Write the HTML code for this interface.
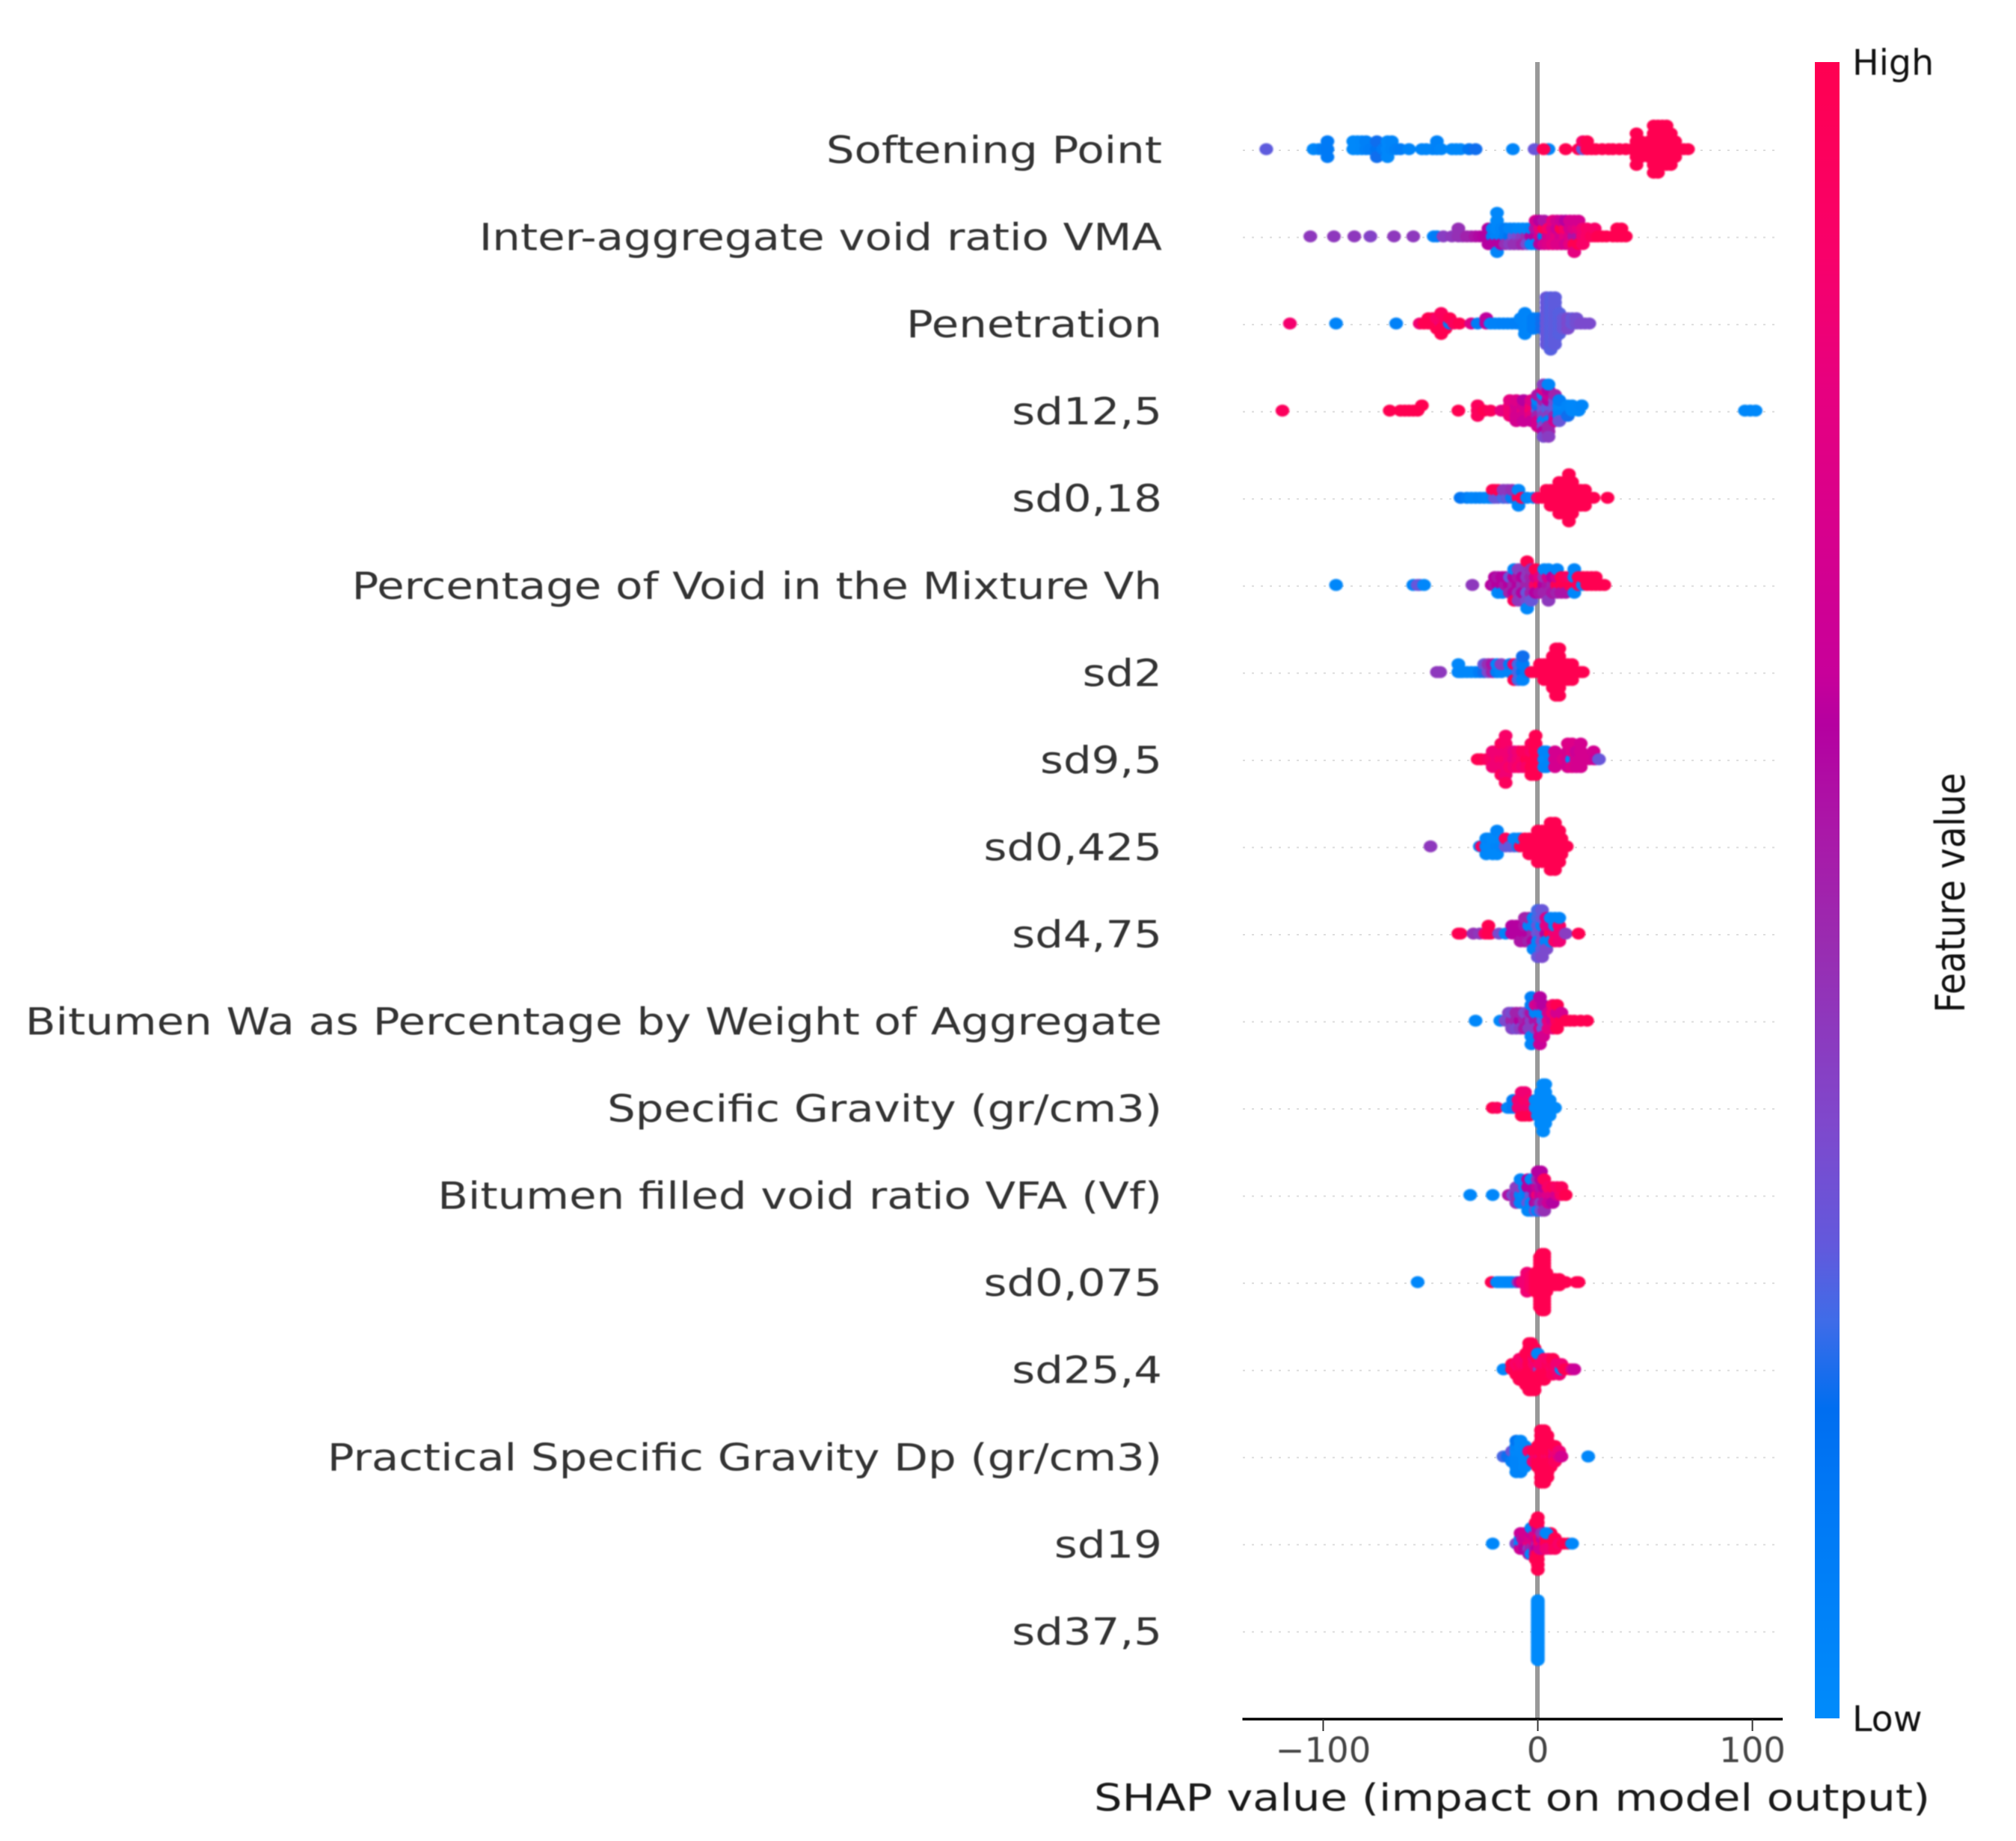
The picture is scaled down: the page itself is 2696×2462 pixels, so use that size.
<!DOCTYPE html>
<html lang="en">
<head>
<meta charset="utf-8">
<title>SHAP summary plot</title>
<style>
  html, body { margin: 0; padding: 0; background: #ffffff; }
  body { width: 2696px; height: 2462px; overflow: hidden; }
  svg { display: block; }
  text { font-family: "DejaVu Sans", "Liberation Sans", sans-serif; }
  #text-layer { filter: blur(0.8px); }
  #point-layer { filter: blur(1px); }
</style>
</head>
<body>
<svg id="chart" xmlns="http://www.w3.org/2000/svg" width="2696" height="2462" viewBox="0 0 2696 2462">
  <defs>
    <linearGradient id="feature-gradient" x1="0" y1="1" x2="0" y2="0"></linearGradient>
  </defs>
  <rect x="0" y="0" width="2696" height="2462" fill="#ffffff"></rect>
  <g id="grid-layer"></g>
  <line x1="2056" y1="83" x2="2056" y2="2299" stroke="#999999" stroke-width="6"></line>
  <g id="point-layer"></g>
  <line x1="1661.5" y1="2299" x2="2384" y2="2299" stroke="#000000" stroke-width="3.5"></line>
  <g id="tick-layer"></g>
  <rect x="2427" y="83" width="33" height="2215" fill="url(#feature-gradient)"></rect>
  <g id="text-layer">
    <g id="label-layer"></g>
    <g id="tick-label-layer"></g>
    <text transform="translate(1463,2421.5) scale(1.185,1)" font-size="50" fill="#1a1a1a">SHAP value (impact on model output)</text>
    <text x="2477" y="100" font-size="47.5" fill="#111111">High</text>
    <text x="2477" y="2315" font-size="47.5" fill="#111111">Low</text>
    <text transform="translate(2627,1194) rotate(-90) scale(1,1.15)" font-size="47" text-anchor="middle" fill="#111111">Feature value</text>
  </g>
</svg>
<script>
const featureNames = [
  "Softening Point", "Inter-aggregate void ratio VMA", "Penetration", "sd12,5", "sd0,18",
  "Percentage of Void in the Mixture Vh", "sd2", "sd9,5", "sd0,425", "sd4,75",
  "Bitumen Wa as Percentage by Weight of Aggregate", "Specific Gravity (gr/cm3)",
  "Bitumen filled void ratio VFA (Vf)", "sd0,075", "sd25,4",
  "Practical Specific Gravity Dp (gr/cm3)", "sd19", "sd37,5"
];
const xTickValues = [-100, 0, 100];
const xTickLabels = ["\u2212100", "0", "100"];

// Each point: [SHAP value, normalised feature value]
const softeningPoint = [
[-126.5,.28],[-104.5,.03],[-102,.05],[-100,.1],[-98,.12],[-98,.12],[-98,.12],
[-86,.02],[-86,.02],[-84,.02],[-84,.02],[-82,.03],[-82,.03],[-80,.08],[-80,.08],[-78,.1],[-75,.15],[-75,.2],[-75,.2],[-72,.1],
[-70,.03],[-70,.03],[-70,.03],[-68,.05],[-68,.05],[-66,.08],[-64,.1],[-60,.05],[-54,.04],[-52,.04],[-49,.04],[-47,.06],[-47,.06],[-45,.04],
[-40,.03],[-38,.03],[-36,.03],[-32,.15],[-29,.2],[-11.6,.04],[-1.5,.3],[5,.04],[2.7,1],[13,1],[19,1],[21,.3],[21,.9],[23,1],[23,1],[25,1],[27,1],[30,1],[33,1],[35,1],[38,1],[41,1],[44,1],
[46,1],[46,1],[46,1],[46,1],[46,1],[48,1],[48,1],[48,1],[50,1],[52,1],[52,1],[52,1],
[54,1],[54,1],[54,1],[54,1],[54,1],[54,1],[54,1],[56,1],[56,1],[56,1],[56,1],[56,1],[56,1],[56,1],
[58,1],[58,1],[58,1],[58,1],[58,1],[58,1],[60,1],[60,1],[60,1],[60,1],[60,1],[60,1],[62,1],[62,1],[62,1],[62,1],[62,1],[64,1],[64,1],[64,1],[68,1],[70,1]
];
const interAggregateVma = [
[-106,.42],[-95,.42],[-85.5,.42],[-78,.38],[-67,.42],[-58,.42],[-48.5,.05],[-47,.1],[-44,.4],[-40,.42],[-37,.45],[-37,.45],[-35,.45],[-33,.5],[-31,.5],[-29,.55],[-27,.58],[-25,.6],
[-23,.6],[-23,.6],[-23,.6],[-21,.1],[-21,.06],[-21,.6],[-19,.05],[-19,.03],[-19,.6],[-19,.03],[-19,.05],[-19,.03],[-17,.05],[-17,.05],[-17,.6],[-15,.1],[-15,.1],[-15,.45],
[-13,.15],[-13,.05],[-13,.4],[-11,.3],[-11,.05],[-11,.45],[-9,.35],[-9,.03],[-9,.45],[-7,.4],[-7,.03],[-7,.5],[-5,.45],[-5,.03],[-5,.35],[-3,.6],[-3,.05],[-3,.03],
[-1,.6],[-1,.55],[-1,.03],[-1,.7],[1,.7],[1,.8],[1,.6],[1,.6],[3,.15],[3,1],[3,.7],[3,.55],[5,.7],[5,.9],[5,.75],[7,.75],[7,.75],[7,.8],[7,.8],
[9,.8],[9,.65],[9,.75],[9,.7],[11,.7],[11,1],[11,.75],[11,.65],[13,.8],[13,.9],[13,.7],[13,.6],[15,.75],[15,.7],[15,.8],[15,.7],
[17,.55],[17,.75],[17,1],[17,.7],[17,.8],[19,.55],[19,.8],[19,1],[19,.7],[21,.85],[21,.85],[21,.9],[23,.9],[23,.9],[25,.95],[26.5,.95],[26.5,.9],[28,1],[30,1],[32,1],[35,1],[37,1],[37,1],[39,1],[39,1],[41,1]
];
const penetration = [
[-115.5,.87],[-94,.05],[-66,.07],[-55,.85],[-53,1],[-51,1],[-51,1],[-49,1],[-49,1],[-47,1],[-47,.9],[-47,1],[-45,.85],[-45,.9],[-45,1],[-45,.95],[-45,1],[-43,1],[-43,.95],[-43,1],[-41,.1],[-41,1],[-39,.95],[-36.5,1],
[-31,.75],[-28,.1],[-24,.62],[-24,.62],[-22,.05],[-20,.06],[-18,.06],[-16,.07],[-14,.07],[-12,.07],[-10,.08],[-8,.08],[-8,.05],
[-6,.05],[-6,.05],[-6,.05],[-6,.05],[-6,.05],[-4,.04],[-4,.04],[-4,.04],[-2,.1],[-2,.1],[-2,.1],[0,.1],[0,.1],
[2,.2],[2,.2],[2,.2],
[4,.3],[4,.3],[4,.3],[4,.3],[4,.3],[4,.3],[4,.3],[4,.3],[4,.3],[4,.3],
[6,.27],[6,.27],[6,.27],[6,.27],[6,.27],[6,.27],[6,.27],[6,.27],[6,.27],[6,.27],[6,.27],
[8,.28],[8,.28],[8,.28],[8,.28],[8,.28],[8,.28],[8,.28],[8,.28],[8,.28],[8,.28],
[10,.27],[10,.27],[10,.27],[10,.27],[10,.27],
[12,.3],[12,.3],[12,.3],[14,.35],[14,.35],[14,.35],[16,.3],[16,.3],[18,.33],[18,.33],[20,.35],[22,.35],[24,.35]
];
const sd12_5 = [
[-119,.95],[-69,1],[-64,1],[-62,1],[-60,1],[-58,1],[-56,1],[-54,1],[-37,1],[-28,.95],[-28,.95],[-28,.95],[-25,1],[-22,.95],[-17,.8],
[-13,.85],[-13,.85],[-13,.85],[-13,.8],[-10,.75],[-10,.7],[-10,.7],[-10,.75],[-10,.7],[-6.6,.8],[-6.6,.7],[-6.6,.7],[-6.6,.6],[-6.6,.65],
[-3,.9],[-3,.85],[-3,.8],[-3,.75],[-3,.65],
[0,.3],[0,.2],[0,.5],[0,.05],[0,.7],[0,.55],[0,.7],
[2.7,.3],[2.7,.3],[2.7,.4],[2.7,.5],[2.7,.05],[2.7,.04],[2.7,.35],[2.7,.75],[2.7,.6],[2.7,.4],[2.7,.35],
[5,.25],[5,.28],[5,.4],[5,.6],[5,.05],[5,.65],[5,.5],[5,.6],[5,.5],[5,.04],[5,.4],
[8,.3],[8,.3],[8,.5],[8,.35],[8,.7],[8,.5],[10,.04],[10,.03],[10,.06],[10,.1],[10,.3],[14,.05],[14,.04],[14,.2],[16,.03],[16,.03],[19,.03],[20.5,.04],
[96.5,.02],[99,.03],[101.5,.02]
];
const sd0_18 = [
[-36,.15],[-33,.1],[-31,.05],[-29,.05],[-27,.06],[-25,.05],[-23,.03],[-22,.03],[-21,.05],[-21,1],[-20,.3],[-20,1],[-18.5,.3],[-18.5,1],[-16,.25],[-16,.42],[-14,.28],[-14,.42],[-12,.1],[-12,.45],
[-9,.95],[-9,.03],[-9,.04],[-7.5,1],[-5,.05],[-2,.02],[0,.9],[2,1],[4,1],[4,1],[6,1],[6,1],[6,1],
[8,1],[8,1],[8,1],[10,1],[10,1],[10,1],[10,1],[10,1],[12,1],[12,1],[12,1],[12,1],[12,1],
[14.5,1],[14.5,1],[14.5,1],[14.5,1],[14.5,1],[14.5,1],[14.5,1],[16,1],[16,1],[16,1],[16,1],[16,1],[18,1],[18,1],[18,1],[20,1],[20,1],[20,1],[22,1],[22,1],[22,1],[24,1],[26,1],[32.5,1]
];
const percentageVoid = [
[-94,.03],[-58,.04],[-56,.3],[-55,.3],[-53,.03],[-30.5,.42],[-21.5,.6],[-20,.55],[-20,.6],[-18.5,.6],[-18.5,.55],[-18.5,.03],[-16.5,.6],[-16.5,.6],[-16.5,.05],[-15,.55],[-15,.6],[-13,.6],[-13,.3],[-13,.5],
[-11,.5],[-11,.6],[-11,.6],[-11,.05],[-11,.95],[-9,.6],[-9,.55],[-9,.45],[-9,.4],[-9,.42],[-7,.45],[-7,.6],[-7,.6],
[-5,.5],[-5,.42],[-5,.3],[-5,.42],[-5,.35],[-5,1],[-5,.03],[-3,.5],[-3,.5],[-3,.5],[-3,.45],[-3,.3],[-1,.9],[-1,.7],[-1,.6],[-1,1],[1,1],[1,.8],[1,.55],
[3,.6],[3,.45],[3,.5],[3,.03],[5,.55],[5,.7],[5,.5],[5,.03],[5,.42],[7,.5],[7,.6],[7,.55],[9,1],[9,.7],[9,.5],[9,.05],[11,1],[11,1],[11,.55],[13,1],[13,.95],[13,.55],
[15,1],[15,.9],[17,1],[17,.05],[17,.03],[17,.04],[19,.95],[19,1],[21,.04],[21,1],[23,1],[23,1],[25,1],[25,1],[27,1],[27,1],[29,1],[31,1]
];
const sd2 = [
[-47,.42],[-45.5,.42],[-37,.05],[-37,.03],[-36,.03],[-35,.03],[-33,.03],[-31,.03],[-29,.03],[-27,.1],[-25,.2],[-25,.3],[-23,.35],[-23,.45],[-21,.5],[-21,.55],[-19,.1],[-19,.03],[-17,.04],[-17,.4],
[-13,.05],[-13,.1],[-11,.05],[-11,.9],[-11,1],[-9,.25],[-9,.25],[-9,.25],[-7,.15],[-7,.1],[-7,.05],[-7,.2],[-5,.1],[-3,1],[-1,1],[1,1],[1,1],[3,1],[3,1],[3,1],[5,1],[5,1],[5,1],
[7,1],[7,1],[7,1],[7,1],[7,1],[8.5,1],[8.5,1],[8.5,1],[8.5,1],[8.5,1],[8.5,1],[8.5,1],[10,1],[10,1],[10,1],[10,1],[10,1],[10,1],[10,1],
[12,1],[12,1],[12,1],[14,1],[14,1],[14,1],[16,1],[16,1],[16,1],[18,1],[20,1],[21,1]
];
const sd9_5 = [
[-28,1],[-26.5,1],[-24,.95],[-22,.9],[-21,.9],[-21,.85],[-21,.85],[-19,.85],[-19,.85],[-19,.85],[-17,.9],[-17,.85],[-17,.85],[-17,.95],[-17,.95],
[-15,.9],[-15,.85],[-15,.85],[-15,.9],[-15,.85],[-15,.9],[-15,.95],[-13,.85],[-13,.85],[-13,.9],[-11,.8],[-11,.8],[-11,.85],[-9,.85],[-9,.85],[-9,.9],[-7,.9],[-7,.95],[-7,.85],[-5,1],[-5,.95],[-5,.9],
[-3,1],[-3,.9],[-3,1],[-3,.95],[-3,1],[-1,1],[-1,1],[-1,1],[-1,1],[-1,1],[-1,1],[1,1],[1,1],[1,1],
[3,.03],[3,.03],[3,.03],[4,.02],[4,.04],[4,.04],[6,.04],[8,.7],[8,.7],[8,.7],[10,.7],[12,.75],[14,.7],[14,.7],[14,.7],[14,.75],
[16,.03],[16,.75],[16,.75],[16,.75],[18,.7],[18,.65],[18,.7],[20,.7],[20,.7],[20,.7],[20,.7],[22,.7],[24,.7],[26,.7],[26,.68],[27,.65],[28.5,.3]
];
const sd0_425 = [
[-50,.42],[-27,.05],[-26,.95],[-24,.05],[-24,.02],[-24,.03],[-23,.03],[-23,.04],[-21,.03],[-21,.02],[-21,.02],[-19,.04],[-19,.02],[-19,.02],[-19,.05],[-17,.05],[-17,.03],
[-15,.3],[-15,.95],[-13,.28],[-11,.28],[-11,.03],[-9,.05],[-9,.03],[-8,1],[-8,.03],[-6,1],[-6,1],[-4,1],[-4,1],[-4,1],[-2,1],[-2,1],[-2,1],
[0,1],[0,1],[0,1],[0,1],[0,1],[2,1],[2,1],[2,1],[2,1],[2,1],[4,1],[4,1],[4,1],[4,1],[4,1],
[6,1],[6,1],[6,1],[6,1],[6,1],[6,1],[6,1],[8,1],[8,1],[8,1],[8,1],[8,1],[8,1],[8,1],[10,1],[10,1],[10,1],[10,1],[10,1],
[11,1],[11,1],[11,1],[12,1],[13.5,1]
];
const sd4_75 = [
[-37,1],[-36,1],[-30,.45],[-27,.42],[-24.5,.9],[-23,1],[-23,1],[-22,1],[-18,.35],[-15,.05],[-12,.6],[-12,.6],[-10,.6],[-10,.6],[-8,.6],[-8,.6],[-8,.55],[-6,.6],[-6,.55],[-6,.55],[-6,.5],
[-4,.6],[-4,.05],[-4,.5],[-4,.5],[-2,.5],[-2,.05],[-2,.6],[-2,.05],[-2,.05],[0,.3],[0,.3],[0,.05],[0,.25],[0,.05],[0,.25],[0,.3],
[2,.35],[2,.05],[2,.35],[2,.3],[2,.3],[2,.3],[2,.35],[4,.6],[4,.8],[4,.05],[4,.75],[4,.35],[6,1],[6,.75],[6,.05],[6,.03],[8,.85],[8,.05],[8,.9],[8,.05],[10,.85],[10,.9],[10,.85],[10,.05],[11,.85],[13,.4],[19,1]
];
const bitumenWa = [
[-29,.03],[-17.5,.03],[-15,.35],[-13.5,.35],[-13.5,.38],[-12,.5],[-12,.35],[-12,.38],[-10,.5],[-10,.5],[-10,.35],[-8,.6],[-8,.5],[-8,.4],[-6,.5],[-6,.35],[-6,.55],[-4,.55],[-4,.4],[-4,.4],
[-3,.4],[-3,.55],[-3,.4],[-3,.1],[-3,.05],[-3,.1],[-3,.05],[-1,.55],[-1,.05],[-1,.4],[-1,.7],[1,.55],[1,.05],[1,.7],[1,.65],[1,.65],[1,.6],[1,.65],[2.5,.25],[2.5,.05],[2.5,.3],[2.5,.6],[2.5,.7],
[5,.8],[5,.7],[5,.8],[7,.7],[7,.85],[7,.8],[7,.9],[9,.95],[9,.7],[9,1],[9,1],[11,1],[11,.7],[13,1],[15,1],[17,1],[20,1],[23,1]
];
const specificGravity = [
[-21,1],[-19,.95],[-14,.05],[-13,.05],[-11.5,.1],[-11.5,.1],[-9,.85],[-9,.85],[-7.5,.85],[-7.5,.85],[-7.5,1],[-7.5,.85],[-6,.85],[-6,.9],[-6,1],[-6,.85],[-4,.85],[-4,.88],[-4,1],[-2,.85],
[-1,.01],[-1,.01],[0,.01],[0,.01],[0,.01],[1.5,.01],[1.5,.01],[1.5,.01],[1.5,.01],[1.5,.01],
[2.5,.01],[2.5,.01],[2.5,.01],[2.5,.01],[2.5,.01],[2.5,.01],[2.5,.01],[3.5,.01],[3.5,.01],[3.5,.01],[3.5,.01],[3.5,.01],[3.5,.01],
[4.5,.01],[4.5,.01],[4.5,.01],[5.5,.01],[5.5,.01],[5.5,.01],[7,.01],[8,.01]
];
const bitumenFilled = [
[-31.5,.03],[-21,.03],[-13.5,.55],[-11.5,.35],[-10,.45],[-10,.4],[-10,.45],[-8,.05],[-8,.4],[-8,.05],[-8,.05],[-6,.03],[-6,.05],[-6,.05],
[-4.5,.06],[-4.5,.6],[-4.5,.3],[-4.5,.6],[-4.5,.04],[-3,.3],[-3,.6],[-3,.04],[-3,.04],[-3,.03],[-1,.6],[-1,.6],[-1,.6],[-1,.04],[-1,.3],
[0,.85],[0,.65],[0,.55],[0,.45],[0,.05],[0,.6],[1.5,.65],[1.5,.55],[1.5,.4],[1.5,.6],[1.5,.3],[1.5,.6],[3,.7],[3,.6],[3,.55],[3,.95],[3,.45],
[5,.75],[5,.9],[5,.65],[7,.75],[7,.95],[7,.6],[9,.7],[9,.9],[11,.9],[11,.95],[13,1]
];
const sd0_075 = [
[-56,.03],[-21.5,1],[-19,.03],[-18,.02],[-17,.02],[-16,.02],[-15,.02],[-14,.02],[-13,.03],[-12,.03],[-10,.03],[-9,.45],[-8,.6],[-7,.85],
[-5,.85],[-5,.85],[-5,.85],[-5,.85],[-5,.85],[-5,.85],[-5,.85],[-3,.9],[-3,.9],[-3,.9],[-3,.9],[-3,.9],[-1,1],[-1,1],[-1,1],[-1,1],[-1,1],[-1,1],[-1,1],
[1,1],[1,1],[1,1],[1,1],[1,1],[1,1],[1,1],[1,1],[1,1],[1,1],[1,1],[1,1],[1,1],[1,1],[1,1],[1,1],[1,1],
[2,1],[2,1],[2,1],[2,1],[2,1],[2,1],[2,1],[2,1],[2,1],[2,1],[2,1],[2,1],[2,1],[2,1],[2,1],[2,1],[2,1],[2,1],[2,1],
[3,1],[3,1],[3,1],[3,1],[3,1],[3,1],[3,1],[3,1],[3,1],[3,1],[3,1],[3,1],[3,1],[3,1],[3,1],[3,1],[3,1],[3,1],[3,1],
[4,1],[4,1],[4,1],[4,1],[4,1],[4,1],[4,1],[6,1],[6,1],[6,1],[8,1],[8,1],[8,1],[10,1],[10,1],[10,1],[12,1],[13,1],[18,1],[19,1]
];
const sd25_4 = [
[-16,.03],[-12,1],[-12,1],[-10,1],[-10,.9],[-10,1],[-8.5,.9],[-8.5,.95],[-8.5,1],[-8.5,.9],[-8.5,1],[-7,.95],[-7,.9],[-7,1],[-7,.9],[-7,1],
[-5.5,.95],[-5.5,.88],[-5.5,1],[-5.5,.85],[-5.5,1],[-5.5,1],[-5.5,1],[-4,1],[-4,1],[-4,1],[-4,1],[-4,1],[-4,1],[-4,1],[-4,1],[-4,1],[-4,1],
[-3,1],[-3,1],[-3,1],[-3,1],[-3,1],[-3,1],[-3,1],[-3,1],[-3,1],[-3,1],[-1.5,1],[-1.5,.9],[-1.5,1],[-1.5,.85],[-1.5,1],[-1.5,1],[-1.5,1],[-1.5,1],[-1.5,1],
[0,.85],[0,.85],[0,1],[0,1],[0,1],[0,.04],[1,.3],[1,.9],[1,1],[3,1],[3,.9],[3,1],[3,.9],[3,1],[5,1],[5,.95],[5,1],[5,.9],[7,.9],[7,.95],[7,.95],[7,1],[9,.9],[9,.85],[10,.85],[10,.85],[10,.85],[11,.03],[11,.85],[12.5,1],[15,1],[16,.8],[17,.65]
];
const practicalGravity = [
[-16,.25],[-14,.2],[-12,.15],[-12,.3],[-12,.1],[-10,.05],[-10,.03],[-10,.05],[-10,.05],[-10,.05],[-10,.15],[-10,.05],
[-8,.04],[-8,.03],[-8,.05],[-8,.02],[-8,.05],[-8,.02],[-8,.05],[-6,.03],[-6,.03],[-6,.03],[-6,.03],[-6,.03],[-4,.03],[-4,.85],[-4,.03],[-2,.03],[-2,1],[-2,.85],
[0,.9],[0,1],[0,1],[0,1],[0,1],[1.5,.85],[1.5,1],[1.5,1],[1.5,1],[1.5,1],[1.5,1],[1.5,1],[1.5,1],[1.5,1],[1.5,1],[1.5,1],
[3,1],[3,1],[3,1],[3,1],[3,1],[3,1],[3,1],[3,1],[3,1],[3,1],[3,1],[4.5,.9],[4.5,1],[4.5,1],[4.5,1],[4.5,1],[4.5,1],[4.5,1],[4.5,1],[4.5,1],
[6,.9],[6,1],[6,1],[6,1],[6,1],[8,.8],[8,.85],[8,.95],[8,1],[10,.8],[10,.85],[11,.7],[23.5,.03]
];
const sd19 = [
[-21,.03],[-10,.35],[-8,.03],[-8,.05],[-8,.65],[-8,.65],[-7,.03],[-7,.55],[-7,.7],[-6,.7],[-6,.65],[-6,.6],[-6,.7],[-4,.8],[-4,.7],[-4,.4],[-4,.7],[-4,.55],
[-3,.8],[-3,.75],[-3,.5],[-3,.65],[-3,.03],[-3,.05],[-1,.8],[-1,.7],[-1,.55],[-1,.75],[-1,.7],[-1,.05],[-1,1],[-1,1],
[0,.5],[0,.65],[0,.6],[0,.75],[0,1],[0,.65],[0,1],[0,1],[0,1],[0,1],[0,1],[1,.85],[1,1],[1,.7],[2,.9],[2,.65],[2,.7],[2,.45],
[6,1],[6,1],[6,.9],[6,1],[4,1],[4,1],[4,.85],[4,.03],[8,1],[8,1],[8,.95],[10,.9],[12,1],[14,1],[16,.03]
];
const sd37_5 = [
[0,.01],[0,.01],[0,.01],[0,.01],[0,.01],[0,.01],[0,.01],[0,.01],[0,.01],[0,.01],[0,.01],[0,.01],[0,.01],[0,.01],[0,.01],
[0,.01],[0,.01],[0,.01],[0,.01],[0,.01],[0,.01],[0,.01],[0,.01],[0,.01],[0,.01],[0,.01],[0,.01],[0,.01],[0,.01],[0,.01],
[0,.01],[0,.01],[0,.01],[0,.01],[0,.01],[0,.01],[0,.01],[0,.01],[0,.01],[0,.01],[0,.01],[0,.01],[0,.01],[0,.01],[0,.01],
[0,.01],[0,.01],[0,.01],[0,.01],[0,.01],[0,.01],[0,.01],[0,.01],[0,.01],[0,.01],[0,.01],[0,.01],[0,.01],[0,.01],[0,.01]
];
const rowSeries = [softeningPoint, interAggregateVma, penetration, sd12_5, sd0_18, percentageVoid, sd2, sd9_5, sd0_425, sd4_75, bitumenWa, specificGravity, bitumenFilled, sd0_075, sd25_4, practicalGravity, sd19, sd37_5];

const colorStops = [
  [0, "#008bfb"], [0.134, "#0078f5"], [0.187, "#006ef0"], [0.24, "#3f6ce8"], [0.285, "#6259dc"],
  [0.36, "#7f48cc"], [0.47, "#9a2bb0"], [0.535, "#aa18a8"], [0.6, "#b500a0"], [0.631, "#c8009a"],
  [0.8, "#e60080"], [0.884, "#f8006a"], [1, "#ff0051"]
];

const SVG_NS = "http://www.w3.org/2000/svg";
const ZERO_X = 2056.5, PX_PER_UNIT = 2.87, FIRST_ROW_Y = 199.5, ROW_STEP = 116.55;
function xScale(v) { return ZERO_X + v * PX_PER_UNIT; }
function yScale(i) { return FIRST_ROW_Y + i * ROW_STEP; }

function hexToRgb(h) { return [1, 3, 5].map(function (k) { return parseInt(h.substr(k, 2), 16); }); }
function featureColor(f) {
  const t = Math.max(0, Math.min(1, f));
  for (let i = 1; i < colorStops.length; i++) {
    if (t <= colorStops[i][0]) {
      const a = colorStops[i - 1], b = colorStops[i];
      const u = (t - a[0]) / (b[0] - a[0]);
      const ca = hexToRgb(a[1]), cb = hexToRgb(b[1]);
      return "rgb(" + ca.map(function (c, j) { return Math.round(c + (cb[j] - c) * u); }).join(",") + ")";
    }
  }
  return colorStops[colorStops.length - 1][1];
}

// Beeswarm layout: values are binned and stacked outward from the row centre.
function beeswarmOffsets(points) {
  const shaps = points.map(function (p) { return p[0]; });
  const lo = Math.min.apply(null, shaps), hi = Math.max.apply(null, shaps);
  const bins = shaps.map(function (s) { return Math.round(100 * (s - lo) / (hi - lo + 1e-8)); });
  const order = shaps.map(function (_, i) { return i; }).sort(function (a, b) { return bins[a] - bins[b] || a - b; });
  const levels = new Array(points.length).fill(0);
  let layer = 0, lastBin = -1, maxLevel = 0;
  order.forEach(function (ind) {
    if (bins[ind] !== lastBin) layer = 0;
    levels[ind] = Math.ceil(layer / 2) * ((layer % 2) * 2 - 1);
    if (levels[ind] > maxLevel) maxLevel = levels[ind];
    layer += 1;
    lastBin = bins[ind];
  });
  const unit = 0.9 * 0.4 * ROW_STEP / (maxLevel + 1);
  return levels.map(function (l) { return l * unit; });
}

// colour bar
const gradient = document.getElementById("feature-gradient");
colorStops.forEach(function (stop) {
  const s = document.createElementNS(SVG_NS, "stop");
  s.setAttribute("offset", stop[0]);
  s.setAttribute("stop-color", stop[1]);
  gradient.appendChild(s);
});

// row guides and feature labels
const gridLayer = document.getElementById("grid-layer");
const labelLayer = document.getElementById("label-layer");
featureNames.forEach(function (name, i) {
  const guide = document.createElementNS(SVG_NS, "line");
  
  
  guide.setAttribute("x1", 1662);
  guide.setAttribute("x2", 2382);
  guide.setAttribute("y1", yScale(i) + 1.5);
  guide.setAttribute("y2", yScale(i) + 1.5);
  guide.setAttribute("stroke", "#dddddd");
  guide.setAttribute("stroke-width", 2);
  guide.setAttribute("stroke-dasharray", "3 9");
  gridLayer.appendChild(guide);

  const label = document.createElementNS(SVG_NS, "text");
  
  
  label.setAttribute("transform", "translate(1554," + (yScale(i) + 18.5) + ") scale(1.187,1)");
  label.setAttribute("font-size", 50);
  label.setAttribute("text-anchor", "end");
  label.setAttribute("fill", "#333333");
  label.textContent = name;
  labelLayer.appendChild(label);
});

// points
const pointLayer = document.getElementById("point-layer");
rowSeries.forEach(function (points, i) {
  const offsets = beeswarmOffsets(points);
  points.forEach(function (p, k) {
    const dot = document.createElementNS(SVG_NS, "ellipse");
    
    
    dot.setAttribute("cx", xScale(p[0]).toFixed(1));
    dot.setAttribute("cy", (yScale(i) - offsets[k]).toFixed(1));
    dot.setAttribute("rx", 9.2);
    dot.setAttribute("ry", 8);
    dot.setAttribute("fill", featureColor(p[1]));
    pointLayer.appendChild(dot);
  });
});

// x ticks
const tickLayer = document.getElementById("tick-layer");
const tickLabelLayer = document.getElementById("tick-label-layer");
xTickValues.forEach(function (v, i) {
  const tick = document.createElementNS(SVG_NS, "line");
  
  
  tick.setAttribute("x1", xScale(v));
  tick.setAttribute("x2", xScale(v));
  tick.setAttribute("y1", 2299);
  tick.setAttribute("y2", 2315);
  tick.setAttribute("stroke", "#333333");
  tick.setAttribute("stroke-width", 2);
  tickLayer.appendChild(tick);

  const tl = document.createElementNS(SVG_NS, "text");
  
  
  tl.setAttribute("x", xScale(v));
  tl.setAttribute("y", 2356.5);
  tl.setAttribute("font-size", 46.5);
  tl.setAttribute("text-anchor", "middle");
  tl.setAttribute("fill", "#444444");
  tl.textContent = xTickLabels[i];
  tickLabelLayer.appendChild(tl);
});
</script>
</body>
</html>
